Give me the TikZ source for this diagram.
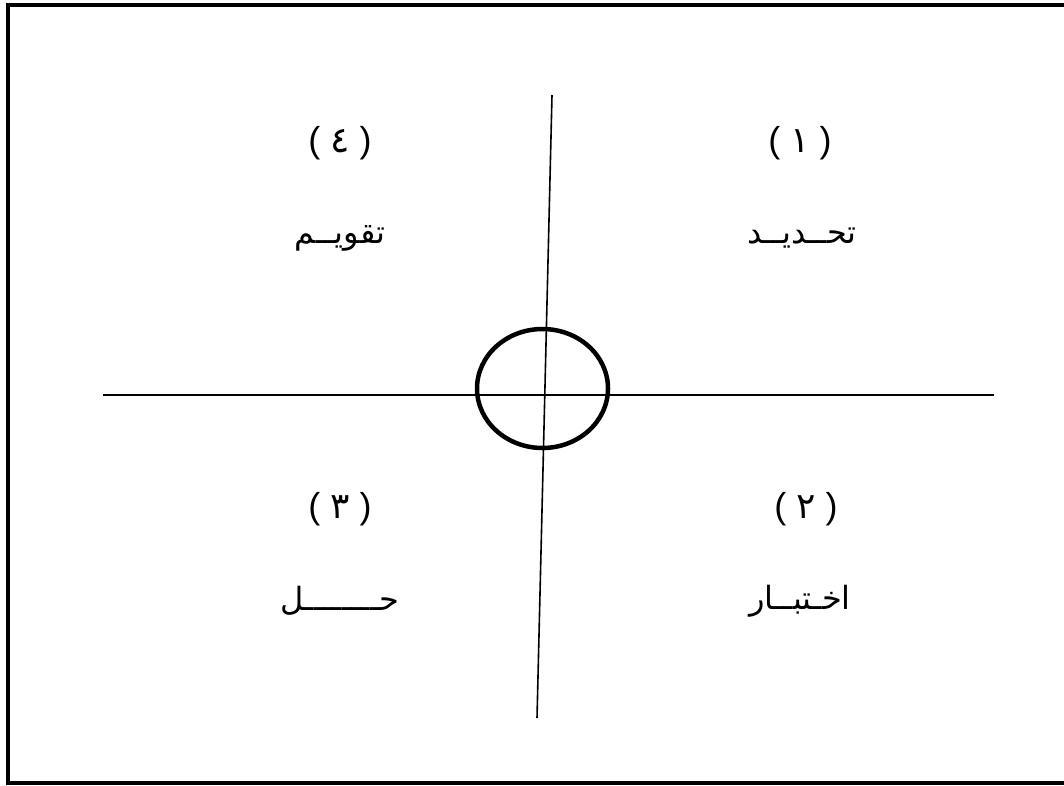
\documentclass[tikz,border=0pt]{standalone}
\usepackage{fontspec}
\setmainfont{Liberation Sans}
\newfontfamily\arabicfont[Script=Arabic]{DejaVu Sans}
\newfontfamily\digitfont{DejaVu Sans}
\TeXXeTstate=1
\usetikzlibrary{shapes.geometric}
\tikzset{
  frame/.style={line width=4pt},
  axis/.style={line width=1.6pt},
  hub/.style={draw, ellipse, line width=4.5pt, minimum width=131pt, minimum height=119pt, inner sep=0pt},
  num/.style={inner sep=0pt, font=\fontsize{36}{40}\selectfont},
  word/.style={inner sep=0pt, font=\arabicfont\fontsize{32}{38}\selectfont},
}
\begin{document}
\begin{tikzpicture}[x=1pt,y=-1pt]
\useasboundingbox (0,0) rectangle (1064,785);
\draw[frame] (8,5) rectangle (1065.5,782.5);
\coordinate (vt) at (552,95);
\coordinate (vb) at (537,718);
\coordinate (hl) at (103,395);
\coordinate (hr) at (994,395);
\draw[axis] (vt) -- (vb);
\draw[axis] (hl) -- (hr);
\node[hub] (c) at (542.5,388.5) {};
\node[num] (n1) at (800,143) {(\ {\digitfont ١}\ )};
\node[num] (n2) at (806,509) {(\ {\digitfont ٢}\ )};
\node[num] (n3) at (340,509) {(\ {\digitfont ٣}\ )};
\node[num] (n4) at (340,143) {(\ {\digitfont ٤}\ )};
\node[word] (w1) at (802,238) {\beginR تحــديــد\endR};
\node[word] (w2) at (800,601) {\beginR اخـتبــار\endR};
\node[word] (w3) at (340,601) {\beginR حــــــــل\endR};
\node[word] (w4) at (340,238) {\beginR تقويــم\endR};
\end{tikzpicture}
\end{document}
